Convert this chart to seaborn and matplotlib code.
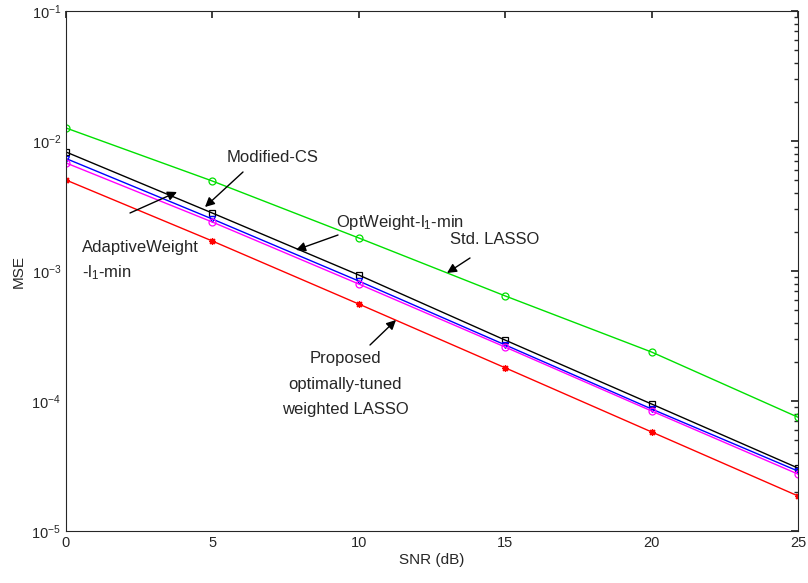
import numpy as np
import pandas as pd
import seaborn as sns
import matplotlib
matplotlib.use("Agg")
import matplotlib.pyplot as plt
from matplotlib.ticker import LogLocator, NullFormatter

# ---- data ----
snr = [0, 5, 10, 15, 20, 25]
std_lasso = [0.01259, 0.00492, 0.001795, 6.43e-4, 2.38e-4, 7.5e-5]
modified_cs = [0.00823, 0.00279, 9.31e-4, 2.94e-4, 9.48e-5, 3.05e-5]
adaptive_w = [0.00733, 0.00251, 8.37e-4, 2.70e-4, 8.68e-5, 2.89e-5]
opt_w = [0.00678, 0.00238, 7.94e-4, 2.60e-4, 8.38e-5, 2.74e-5]
proposed = [0.00501, 0.0017, 5.57e-4, 1.80e-4, 5.78e-5, 1.86e-5]

series_names = ["Std. LASSO", "Modified-CS", "AdaptiveWeight", "OptWeight", "Proposed"]
series_vals = [std_lasso, modified_cs, adaptive_w, opt_w, proposed]
colors = ["#00e000", "black", "blue", "#ff00ff", "red"]
markers = ["o", "s", "v", "o", (8, 2, 0)]

sns.set_theme(style="white")
plt.rcParams["font.family"] = ["Liberation Sans", "DejaVu Sans"]
plt.rcParams["mathtext.fontset"] = "custom"
plt.rcParams["mathtext.rm"] = "Liberation Sans"
plt.rcParams["mathtext.it"] = "Liberation Sans:italic"
plt.rcParams["mathtext.bf"] = "Liberation Sans:bold"

TOP, BOT, LEFT, RIGHT = 11, 531, 66, 798
fig = plt.figure(figsize=(8.08, 5.83), dpi=100)
ax = fig.add_axes([LEFT / 808, 1 - BOT / 583, (RIGHT - LEFT) / 808, (BOT - TOP) / 583])

for name, vals, c, m in zip(series_names, series_vals, colors, markers):
    df = pd.DataFrame({"SNR": snr, "MSE": vals})
    sns.lineplot(data=df, x="SNR", y="MSE", ax=ax, color=c, marker=m,
                 markersize=5, markerfacecolor="none", markeredgecolor=c,
                 markeredgewidth=0.9, linewidth=1.0, legend=False)

ax.set_yscale("log")
ax.set_xlim(0, 25)
ax.set_ylim(1e-5, 1e-1)
ax.set_xticks([0, 5, 10, 15, 20, 25])
ax.yaxis.set_major_locator(LogLocator(base=10, numticks=10))
ax.yaxis.set_minor_locator(LogLocator(base=10, subs=np.arange(2, 10), numticks=20))
ax.yaxis.set_minor_formatter(NullFormatter())
ax.grid(False)
for s in ax.spines.values():
    s.set_color("#262626")
    s.set_linewidth(0.8)
ax.tick_params(which="both", direction="in", top=True, right=True, colors="#262626",
               labelsize=10.5, labelcolor="#262626")
ax.tick_params(which="major", length=5)
ax.tick_params(which="minor", length=3)
ax.set_xlabel("SNR (dB)", fontsize=11, color="#262626", labelpad=2)
ax.set_ylabel("MSE", fontsize=11, color="#262626", labelpad=4)

# ---- annotations (positions given in pixel space, converted to data) ----
DEC = (BOT - TOP) / 4.0

def yv(py):
    return 10 ** (-1 - (py - TOP) / DEC)

def xv(px):
    return 25.0 * (px - LEFT) / (RIGHT - LEFT)

fs = 12
ax.text(xv(273), yv(157), "Modified-CS", fontsize=fs, ha="center", va="center")
ax.text(xv(400), yv(222), r"OptWeight-l$_{1}$-min", fontsize=fs, ha="center", va="center")
ax.text(xv(495), yv(240), "Std. LASSO", fontsize=fs, ha="center", va="center")
ax.text(xv(82), yv(261), "AdaptiveWeight\n-l$_{1}$-min", fontsize=fs, ha="left", va="center",
        linespacing=1.55)
ax.text(xv(345), yv(384), "Proposed\noptimally-tuned\nweighted LASSO", fontsize=fs,
        ha="center", va="center", linespacing=1.85)

arrows = [
    ((243, 172), (205, 207)),
    ((338, 235), (296, 250)),
    ((470, 258), (447, 273)),
    ((130, 213), (177, 192)),
    ((370, 345), (396, 320)),
]
for (tx, ty), (hx, hy) in arrows:
    ax.annotate("", xy=(xv(hx), yv(hy)), xytext=(xv(tx), yv(ty)),
                arrowprops=dict(arrowstyle="-|>", color="black", lw=1.0,
                                mutation_scale=14, shrinkA=0, shrinkB=0))

fig.savefig("out.png", dpi=100)
